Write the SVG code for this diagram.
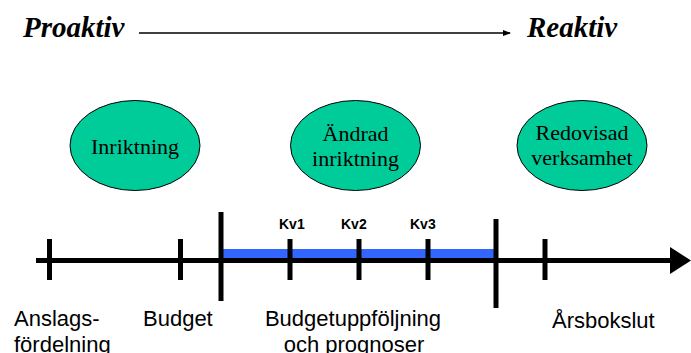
<svg xmlns="http://www.w3.org/2000/svg" width="691" height="353" viewBox="0 0 691 353">
<style>
.title{font-family:"Liberation Serif",serif;font-weight:bold;font-style:italic;font-size:29px;fill:#000}
.node ellipse{fill:#00CC99;stroke:#000;stroke-width:1}
.node text{font-family:"Liberation Serif",serif;font-size:22px;fill:#000;text-anchor:middle}
.lbl{font-family:"Liberation Sans",Arial,sans-serif;font-size:22px;fill:#000}
.kv{font-family:"Liberation Sans",Arial,sans-serif;font-size:14px;font-weight:bold;fill:#000}
.tick{stroke:#000;stroke-width:5}
</style>
<defs>
<marker id="small" markerWidth="8" markerHeight="6" refX="7" refY="3" orient="auto" markerUnits="userSpaceOnUse">
<path d="M0,0 L8,3 L0,6 Z" fill="#000"/>
</marker>
</defs>
<g id="header">
<text class="title" x="23" y="37">Proaktiv</text>
<text class="title" x="527" y="37">Reaktiv</text>
</g>
<g id="node-inriktning" class="node">
<ellipse cx="135" cy="145.5" rx="65" ry="45"/>
<text x="135" y="154">Inriktning</text>
</g>
<g id="node-andrad" class="node">
<ellipse cx="355.5" cy="145.5" rx="65" ry="45"/>
<text x="355.5" y="141">Ändrad</text>
<text x="355.5" y="166">inriktning</text>
</g>
<g id="node-redovisad" class="node">
<ellipse cx="582" cy="145.5" rx="65" ry="45"/>
<text x="582" y="140">Redovisad</text>
<text x="582" y="165">verksamhet</text>
</g>
<g id="connectors">
<line x1="139" y1="33" x2="510" y2="33" stroke="#000" stroke-width="1.5" marker-end="url(#small)"/>
<rect x="221" y="249" width="274" height="9" fill="#3366FF"/>
<line x1="36" y1="260.5" x2="672" y2="260.5" stroke="#000" stroke-width="5"/>
<path d="M670,247 L691,260.5 L670,274 Z" fill="#000"/>
<line class="tick" x1="49.5" y1="239" x2="49.5" y2="280"/>
<line class="tick" x1="180.5" y1="239" x2="180.5" y2="280"/>
<line class="tick" x1="221" y1="212" x2="221" y2="301"/>
<line class="tick" x1="290" y1="239" x2="290" y2="280"/>
<line class="tick" x1="359" y1="239" x2="359" y2="280"/>
<line class="tick" x1="428" y1="239" x2="428" y2="280"/>
<line class="tick" x1="496" y1="219" x2="496" y2="308"/>
<line class="tick" x1="545" y1="239" x2="545" y2="280"/>
</g>
<g id="labels">
<text class="kv" x="279" y="229">Kv1</text>
<text class="kv" x="341" y="229">Kv2</text>
<text class="kv" x="410" y="229">Kv3</text>
<text class="lbl" x="14" y="326">Anslags-</text>
<text class="lbl" x="14" y="352">fördelning</text>
<text class="lbl" x="143" y="326">Budget</text>
<text class="lbl" x="353" y="326" text-anchor="middle">Budgetuppföljning</text>
<text class="lbl" x="354" y="352" text-anchor="middle">och prognoser</text>
<text class="lbl" x="552" y="328">Årsbokslut</text>
</g>
</svg>
